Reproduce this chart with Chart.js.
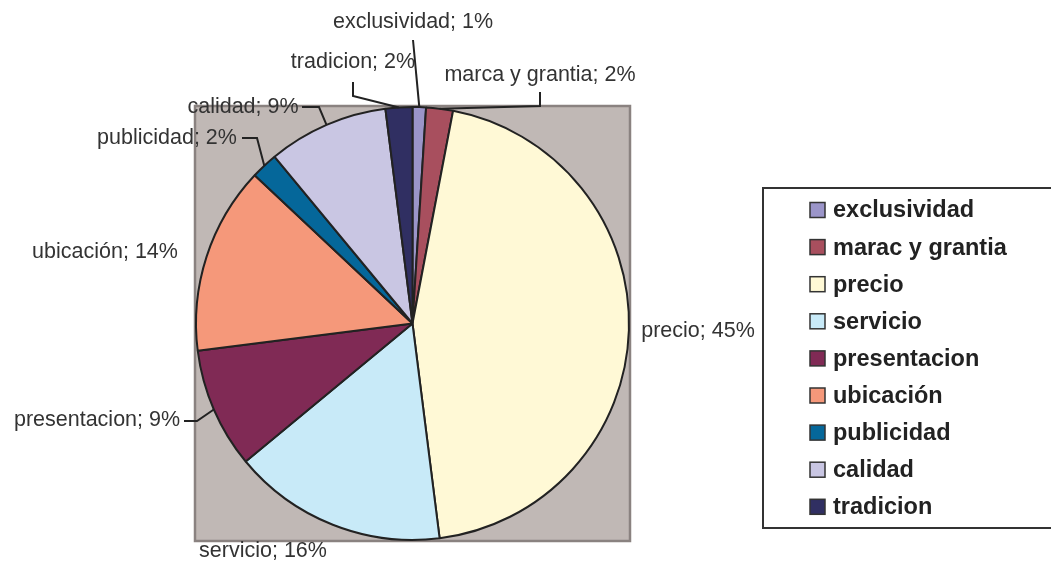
<!DOCTYPE html>
<html>
<head>
<meta charset="utf-8">
<script src="https://cdn.jsdelivr.net/npm/chart.js@4.4.1/dist/chart.umd.min.js"></script>
<style>
  html, body { margin: 0; padding: 0; background: #fff; }
  #wrap { width: 1051px; height: 563px; position: relative; }
</style>
</head>
<body>
<div id="wrap"><canvas id="pie"></canvas></div>
<script>
const LABELS = ['exclusividad', 'marca y grantia', 'precio', 'servicio', 'presentacion',
  'ubicación', 'publicidad', 'calidad', 'tradicion'];
const LEGEND_LABELS = ['exclusividad', 'marac y grantia', 'precio', 'servicio', 'presentacion',
  'ubicación', 'publicidad', 'calidad', 'tradicion'];
const PERCENTS = [1, 2, 45, 16, 9, 14, 2, 9, 2];
const COLORS = ['#9b95c9', '#a84f5e', '#fff9d6', '#c8eaf8', '#802a55',
  '#f5987a', '#05679a', '#c9c6e3', '#302f62'];

const FONT = '"Liberation Sans", Arial, sans-serif';
const TEXT_COLOR = '#333333';

// where each data label sits, plus the elbow points of its leader line
const LABEL_LAYOUT = [
  { x: 413, y: 22, leader: [[413, 40]] },
  { x: 540, y: 75, leader: [[540, 92], [540, 106]] },
  { x: 698, y: 331, leader: [] },
  { x: 263, y: 551, leader: [] },
  { x: 97, y: 420, leader: [[184, 421], [197, 421]] },
  { x: 105, y: 252, leader: [] },
  { x: 167, y: 138, leader: [[242, 138], [257, 138]] },
  { x: 243, y: 107, leader: [[302, 107], [319, 107]] },
  { x: 353, y: 62, leader: [[353, 82], [353, 96]] },
];

const plotFrame = {
  id: 'plotFrame',
  beforeDatasetsDraw(chart) {
    const { ctx, chartArea: a } = chart;
    ctx.save();
    ctx.fillStyle = '#c0b8b5';
    ctx.strokeStyle = '#8a8280';
    ctx.lineWidth = 2.5;
    ctx.fillRect(a.left, a.top, a.right - a.left, a.bottom - a.top);
    ctx.strokeRect(a.left, a.top, a.right - a.left, a.bottom - a.top);
    ctx.restore();
  },
};

const sliceLabels = {
  id: 'sliceLabels',
  afterDatasetsDraw(chart) {
    const { ctx } = chart;
    const meta = chart.getDatasetMeta(0);
    ctx.save();
    ctx.font = '21.5px ' + FONT;
    ctx.fillStyle = TEXT_COLOR;
    ctx.textAlign = 'center';
    ctx.textBaseline = 'middle';
    meta.data.forEach((arc, i) => {
      const p = arc.getProps(['x', 'y', 'startAngle', 'endAngle', 'outerRadius'], true);
      const mid = (p.startAngle + p.endAngle) / 2;
      const ex = p.x + Math.cos(mid) * p.outerRadius;
      const ey = p.y + Math.sin(mid) * p.outerRadius;
      const lay = LABEL_LAYOUT[i];
      if (lay.leader.length) {
        ctx.beginPath();
        ctx.strokeStyle = '#222';
        ctx.lineWidth = 2;
        ctx.moveTo(lay.leader[0][0], lay.leader[0][1]);
        lay.leader.slice(1).forEach(([lx, ly]) => ctx.lineTo(lx, ly));
        ctx.lineTo(ex, ey);
        ctx.stroke();
      }
      ctx.fillText(LABELS[i] + '; ' + PERCENTS[i] + '%', lay.x, lay.y);
    });
    ctx.restore();
  },
};

const boxedLegend = {
  id: 'boxedLegend',
  afterDraw(chart) {
    const { ctx } = chart;
    const ds = chart.data.datasets[0];
    const left = 763, top = 188, bottom = 528, right = 1052;
    ctx.save();
    ctx.fillStyle = '#fff';
    ctx.fillRect(left, top, right - left, bottom - top);
    ctx.strokeStyle = '#333';
    ctx.lineWidth = 2;
    ctx.strokeRect(left, top, right - left, bottom - top);
    ctx.font = 'bold 23.5px ' + FONT;
    ctx.textBaseline = 'middle';
    ctx.textAlign = 'left';
    const step = 37.1;
    LEGEND_LABELS.forEach((label, i) => {
      const y = 210 + i * step;
      ctx.fillStyle = ds.backgroundColor[i];
      ctx.fillRect(810, y - 7.5, 15, 15);
      ctx.strokeStyle = '#333';
      ctx.lineWidth = 1.5;
      ctx.strokeRect(810, y - 7.5, 15, 15);
      ctx.fillStyle = '#222';
      ctx.fillText(label, 833, y + 1);
    });
    ctx.restore();
  },
};

new Chart(document.getElementById('pie'), {
  type: 'pie',
  data: {
    labels: LABELS,
    datasets: [{
      data: PERCENTS,
      backgroundColor: COLORS,
      borderColor: '#222',
      borderWidth: 2,
      borderAlign: 'center',
    }],
  },
  options: {
    responsive: true,
    maintainAspectRatio: false,
    animation: false,
    layout: { padding: { left: 195, right: 421, top: 106, bottom: 22 } },
    plugins: {
      legend: { display: false },
      tooltip: { enabled: false },
    },
  },
  plugins: [plotFrame, sliceLabels, boxedLegend],
});
</script>
</body>
</html>
